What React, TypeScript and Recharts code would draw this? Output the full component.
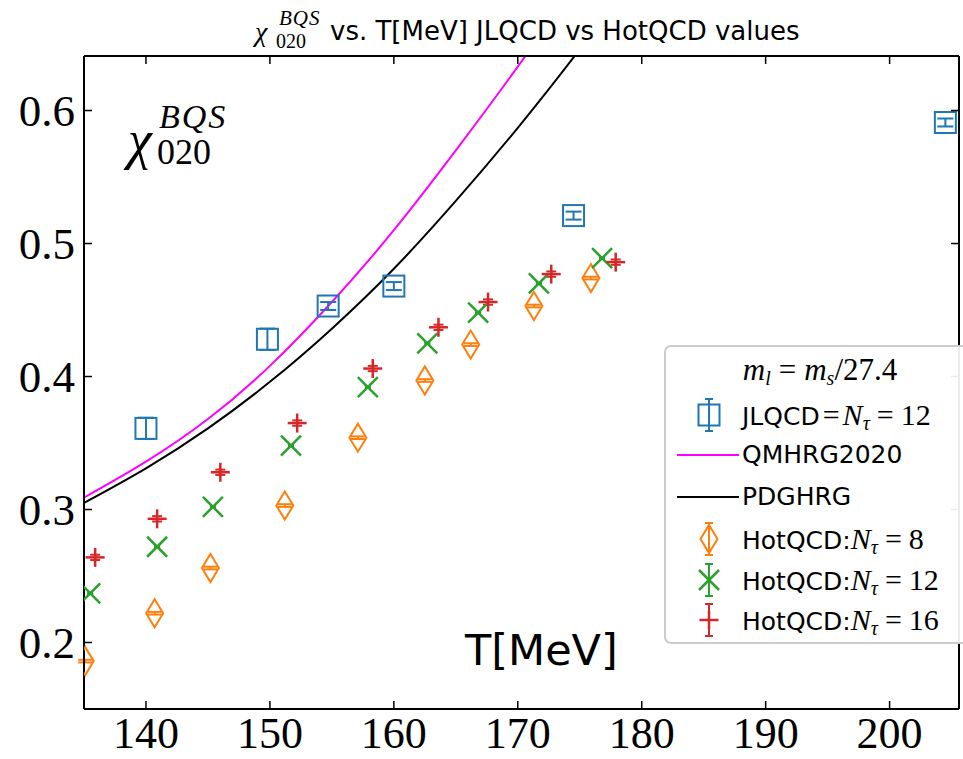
import React from "react"
import { ComposedChart, Scatter, Line, XAxis, YAxis, Legend, ErrorBar } from "recharts"

// axis ticks
const xTicks = [140, 150, 160, 170, 180, 190, 200]
const yTicks = [0.2, 0.3, 0.4, 0.5, 0.6]

// JLQCD, N_tau = 12
const jlqcdT = [140.0, 149.8, 154.7, 160.0, 174.5, 204.5]
const jlqcdChi = [0.361, 0.428, 0.453, 0.468, 0.521, 0.591]
const jlqcdErr = [0.008, 0.008, 0.003, 0.003, 0.003, 0.003]

// HotQCD N_tau = 8, 12, 16
const hot8T = [135.1, 140.7, 145.2, 151.2, 157.1, 162.5, 166.2, 171.3, 175.9]
const hot8Chi = [0.186, 0.222, 0.256, 0.303, 0.354, 0.397, 0.424, 0.453, 0.474]
const hot8Err = [0.001, 0.001, 0.001, 0.001, 0.001, 0.001, 0.001, 0.001, 0.001]

const hot12T = [135.5, 140.9, 145.4, 151.7, 157.9, 162.7, 166.8, 171.7, 176.8]
const hot12Chi = [0.237, 0.272, 0.302, 0.348, 0.392, 0.425, 0.448, 0.47, 0.489]
const hot12Err = [0.0005, 0.0005, 0.0005, 0.0005, 0.0005, 0.0005, 0.0005, 0.0005, 0.0005]

const hot16T = [135.9, 140.9, 146.0, 152.2, 158.3, 163.6, 167.6, 172.7, 177.9]
const hot16Chi = [0.264, 0.293, 0.328, 0.365, 0.406, 0.437, 0.456, 0.477, 0.486]
const hot16Err = [0.002, 0.002, 0.002, 0.002, 0.002, 0.002, 0.002, 0.002, 0.002]

// HRG curves
const hrgT = [135, 140, 145, 150, 155, 160, 165, 170, 175, 180]
const qmhrgChi = [0.309, 0.336, 0.368, 0.408, 0.456, 0.51, 0.57, 0.633, 0.7, 0.77]
const pdghrgChi = [0.305, 0.331, 0.361, 0.396, 0.436, 0.481, 0.532, 0.587, 0.646, 0.708]

const zip = (t: number[], v: number[], e?: number[]) =>
  t.map((T, i) => ({ T, chi: v[i], err: e ? e[i] : 0 }))

const jlqcd = zip(jlqcdT, jlqcdChi, jlqcdErr)
const hot8 = zip(hot8T, hot8Chi, hot8Err)
const hot12 = zip(hot12T, hot12Chi, hot12Err)
const hot16 = zip(hot16T, hot16Chi, hot16Err)
const qmhrg = zip(hrgT, qmhrgChi)
const pdghrg = zip(hrgT, pdghrgChi)

const BLUE = "#1f77b4"
const ORANGE = "#ff7f0e"
const GREEN = "#2ca02c"
const RED = "#d62728"
const MAGENTA = "#ff00ff"

const SERIF = "'Liberation Serif', 'DejaVu Serif', serif"
const SANS = "'DejaVu Sans', sans-serif"

const X_DOMAIN: [number, number] = [135, 205.6]
const Y_DOMAIN: [number, number] = [0.15, 0.641]

// markers
const Square = ({ cx, cy }: any) => (
  <rect x={cx - 10.5} y={cy - 10.5} width={21} height={21} fill="none" stroke={BLUE} strokeWidth={2} />
)
const Diamond = ({ cx, cy }: any) => (
  <polygon
    points={`${cx},${cy - 14} ${cx + 8.5},${cy} ${cx},${cy + 14} ${cx - 8.5},${cy}`}
    fill="none"
    stroke={ORANGE}
    strokeWidth={2}
  />
)
const Cross = ({ cx, cy }: any) => (
  <g stroke={GREEN} strokeWidth={2.5}>
    <line x1={cx - 10} y1={cy - 10} x2={cx + 10} y2={cy + 10} />
    <line x1={cx - 10} y1={cy + 10} x2={cx + 10} y2={cy - 10} />
  </g>
)
const Plus = ({ cx, cy }: any) => (
  <g stroke={RED} strokeWidth={2.5}>
    <line x1={cx - 9.5} y1={cy} x2={cx + 9.5} y2={cy} />
    <line x1={cx} y1={cy - 9.5} x2={cx} y2={cy + 9.5} />
  </g>
)
const Nothing = () => <g />

// ticks (all drawn inward)
const BottomTick = ({ x, y, payload }: any) => (
  <g>
    <line x1={x} x2={x} y1={y} y2={y - 8} stroke="#000" strokeWidth={1.5} />
    <text x={x} y={y + 39} textAnchor="middle" fontFamily={SERIF} fontSize={44} fill="#000">
      {payload.value}
    </text>
  </g>
)
const TopTick = ({ x, y }: any) => <line x1={x} x2={x} y1={y} y2={y + 8} stroke="#000" strokeWidth={1.5} />
const LeftTick = ({ x, y, payload }: any) => (
  <g>
    <line x1={x} x2={x + 8} y1={y} y2={y} stroke="#000" strokeWidth={1.5} />
    <text x={x - 9} y={y + 15} textAnchor="end" fontFamily={SERIF} fontSize={45} fill="#000">
      {payload.value.toFixed(1)}
    </text>
  </g>
)
const RightTick = ({ x, y }: any) => <line x1={x} x2={x - 8} y1={y} y2={y} stroke="#000" strokeWidth={1.5} />

const Eq = () => <span style={{ fontFamily: SERIF, fontSize: 30, margin: "0 7px" }}>=</span>

const Nt = ({ n }: { n: number }) => (
  <span style={{ fontFamily: SERIF, fontSize: 30 }}>
    <i>N</i>
    <sub style={{ fontSize: 20, fontStyle: "italic", verticalAlign: -5 }}>τ</sub>
    <Eq />
    {n}
  </span>
)

const ErrIcon = ({ color }: { color: string }) => (
  <g stroke={color} strokeWidth={2}>
    <line x1={43} x2={43} y1={4} y2={36} />
    <line x1={39} x2={47} y1={4} y2={4} />
    <line x1={39} x2={47} y1={36} y2={36} />
  </g>
)

const legendRows = [
  {
    top: 48,
    icon: (
      <>
        <ErrIcon color={BLUE} />
        <rect x={32.5} y={9.5} width={21} height={21} fill="none" stroke={BLUE} strokeWidth={2} />
      </>
    ),
    label: (
      <>
        <span style={{ fontFamily: SANS }}>JLQCD</span>
        <span style={{ fontFamily: SERIF, fontSize: 30, margin: "0 3px" }}>=</span>
        <Nt n={12} />
      </>
    ),
  },
  { top: 88, icon: <line x1={11} x2={73} y1={20} y2={20} stroke={MAGENTA} strokeWidth={2} />, label: <span style={{ fontFamily: SANS }}>QMHRG2020</span> },
  { top: 130, icon: <line x1={11} x2={73} y1={20} y2={20} stroke="#000" strokeWidth={2} />, label: <span style={{ fontFamily: SANS }}>PDGHRG</span> },
  {
    top: 172,
    icon: (
      <>
        <ErrIcon color={ORANGE} />
        <polygon points="43,6 51.5,20 43,34 34.5,20" fill="none" stroke={ORANGE} strokeWidth={2} />
      </>
    ),
    label: (
      <>
        <span style={{ fontFamily: SANS }}>HotQCD:</span>
        <Nt n={8} />
      </>
    ),
  },
  {
    top: 213,
    icon: (
      <>
        <ErrIcon color={GREEN} />
        <g stroke={GREEN} strokeWidth={2.5}>
          <line x1={33} y1={10} x2={53} y2={30} />
          <line x1={33} y1={30} x2={53} y2={10} />
        </g>
      </>
    ),
    label: (
      <>
        <span style={{ fontFamily: SANS }}>HotQCD:</span>
        <Nt n={12} />
      </>
    ),
  },
  {
    top: 253,
    icon: (
      <>
        <ErrIcon color={RED} />
        <g stroke={RED} strokeWidth={2.5}>
          <line x1={33.5} y1={20} x2={52.5} y2={20} />
          <line x1={43} y1={10.5} x2={43} y2={29.5} />
        </g>
      </>
    ),
    label: (
      <>
        <span style={{ fontFamily: SANS }}>HotQCD:</span>
        <Nt n={16} />
      </>
    ),
  },
]

const LegendBox = () => (
  <div
    style={{
      position: "relative",
      width: 320,
      height: 299,
      border: "2px solid #cccccc",
      borderRadius: 7,
      background: "rgba(255,255,255,0.92)",
      boxSizing: "border-box",
      color: "#000",
    }}
  >
    <div
      style={{
        position: "absolute",
        left: 54,
        top: 5,
        width: 200,
        textAlign: "center",
        fontFamily: SERIF,
        fontSize: 31,
        whiteSpace: "nowrap",
      }}
    >
      <i>m</i>
      <sub style={{ fontSize: 20, verticalAlign: -5 }}>
        <i>l</i>
      </sub>
      <span style={{ margin: "0 8px" }}>=</span>
      <i>m</i>
      <sub style={{ fontSize: 20, verticalAlign: -5 }}>
        <i>s</i>
      </sub>
      /27.4
    </div>
    {legendRows.map((r, i) => (
      <div key={i} style={{ position: "absolute", left: 0, top: r.top, height: 40, width: 320 }}>
        <svg width={80} height={40} style={{ position: "absolute", left: 0, top: 0 }}>
          {r.icon}
        </svg>
        <div
          style={{
            position: "absolute",
            left: 76,
            top: 3,
            fontSize: 25,
            lineHeight: "34px",
            whiteSpace: "nowrap",
          }}
        >
          {r.label}
        </div>
      </div>
    ))}
  </div>
)

export default function App() {
  return (
    <div
      style={{
        position: "absolute",
        left: 0,
        top: 0,
        width: 963,
        height: 759,
        overflow: "hidden",
        background: "#fff",
      }}
    >
      <ComposedChart width={963} height={759} margin={{ top: 55, right: 3, bottom: 0, left: 0 }}>
        <XAxis
          dataKey="T"
          type="number"
          domain={X_DOMAIN}
          ticks={xTicks}
          allowDataOverflow
          height={50}
          tickSize={0}
          tickMargin={0}
          tickLine={false}
          tick={<BottomTick />}
          axisLine={{ stroke: "#000", strokeWidth: 2 }}
        />
        <XAxis
          xAxisId="top"
          dataKey="T"
          orientation="top"
          type="number"
          domain={X_DOMAIN}
          ticks={xTicks}
          allowDataOverflow
          height={1}
          tickSize={0}
          tickMargin={0}
          tickLine={false}
          tick={<TopTick />}
          axisLine={{ stroke: "#000", strokeWidth: 2 }}
        />
        <YAxis
          dataKey="chi"
          type="number"
          domain={Y_DOMAIN}
          ticks={yTicks}
          allowDataOverflow
          width={84}
          tickSize={0}
          tickMargin={0}
          tickLine={false}
          tick={<LeftTick />}
          axisLine={{ stroke: "#000", strokeWidth: 2 }}
        />
        <YAxis
          yAxisId="right"
          dataKey="chi"
          orientation="right"
          type="number"
          domain={Y_DOMAIN}
          ticks={yTicks}
          allowDataOverflow
          width={1}
          tickSize={0}
          tickMargin={0}
          tickLine={false}
          tick={<RightTick />}
          axisLine={{ stroke: "#000", strokeWidth: 2 }}
        />
        <Legend
          content={<LegendBox />}
          layout="horizontal"
          verticalAlign="middle"
          wrapperStyle={{ left: 664, top: 345, width: 320, height: 299 }}
        />
        {/* invisible series so the top and right frame axes are drawn */}
        <Scatter
          data={jlqcd}
          dataKey="chi"
          xAxisId="top"
          yAxisId="right"
          shape={<Nothing />}
          legendType="none"
          isAnimationActive={false}
        />
        <Line data={qmhrg} dataKey="chi" type="natural" stroke={MAGENTA} strokeWidth={2} dot={false} isAnimationActive={false} />
        <Line data={pdghrg} dataKey="chi" type="natural" stroke="#000" strokeWidth={2} dot={false} isAnimationActive={false} />
        <Scatter data={hot8} dataKey="chi" shape={<Diamond />} isAnimationActive={false}>
          <ErrorBar dataKey="err" direction="y" width={7} stroke={ORANGE} strokeWidth={2} />
        </Scatter>
        <Scatter data={hot12} dataKey="chi" shape={<Cross />} isAnimationActive={false}>
          <ErrorBar dataKey="err" direction="y" width={3} stroke={GREEN} strokeWidth={2} />
        </Scatter>
        <Scatter data={hot16} dataKey="chi" shape={<Plus />} isAnimationActive={false}>
          <ErrorBar dataKey="err" direction="y" width={5} stroke={RED} strokeWidth={2} />
        </Scatter>
        <Scatter data={jlqcd} dataKey="chi" shape={<Square />} isAnimationActive={false}>
          <ErrorBar dataKey="err" direction="y" width={8} stroke={BLUE} strokeWidth={2} />
        </Scatter>
      </ComposedChart>
      <svg
        width={963}
        height={759}
        style={{ position: "absolute", left: 0, top: 0, pointerEvents: "none" }}
      >
        <text x={255} y={41} fontFamily={SERIF} fontStyle="italic" fontSize={28} fill="#000">χ</text>
        <text x={279} y={25} fontFamily={SERIF} fontStyle="italic" fontSize={21} letterSpacing={1} fill="#000">BQS</text>
        <text x={276} y={48} fontFamily={SERIF} fontSize={20} fill="#000">020</text>
        <text x={330} y={40} fontFamily={SANS} fontSize={26} fill="#000">
          vs. T[MeV] JLQCD vs HotQCD values
        </text>
        <text x={128} y={158} fontFamily={SERIF} fontStyle="italic" fontSize={54} fill="#000">χ</text>
        <text x={159} y={128} fontFamily={SERIF} fontStyle="italic" fontSize={34} letterSpacing={2} fill="#000">BQS</text>
        <text x={157} y={164} fontFamily={SERIF} fontSize={36} fill="#000">020</text>
        <text x={465} y={665} fontFamily={SANS} fontSize={43} fill="#000">T[MeV]</text>
      </svg>
    </div>
  )
}
